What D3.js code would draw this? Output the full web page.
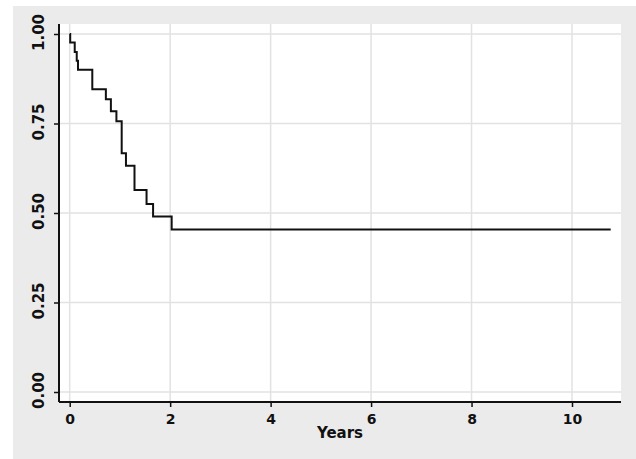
<!DOCTYPE html>
<html lang="en">
<head>
    <meta charset="UTF-8">
    <title>Survival curve</title>
    <script src="https://d3js.org/d3.v7.min.js"></script>
    <style>
        body { margin: 0; background: #fff; }
    </style>
</head>
<body>
    <script>
        // step times (years) and survival after each step
        const stepTimes = [0, 0.01, 0.10, 0.14, 0.165, 0.45, 0.72, 0.82, 0.93, 1.035, 1.12, 1.29, 1.53, 1.66, 2.03];
        const survival = [1.0, 0.976, 0.950, 0.925, 0.900, 0.846, 0.818, 0.784, 0.756, 0.667, 0.632, 0.564, 0.525, 0.490, 0.454];
        const lastTime = 10.77;
        const xTicks = [0, 2, 4, 6, 8, 10];
        const yTicks = [0, 0.25, 0.5, 0.75, 1.0];
        const xTitle = "Years";

        const width = 636, height = 459;
        const plot = { left: 59, right: 621, top: 24, bottom: 402 };

        const svg = d3.select("body").append("svg")
            .attr("width", width).attr("height", height);

        // outer gray panel
        svg.append("rect")
            .attr("x", 13).attr("y", 6)
            .attr("width", width - 13).attr("height", height - 6)
            .attr("fill", "#ebebeb");

        // white plot region
        svg.append("rect")
            .attr("x", plot.left).attr("y", plot.top)
            .attr("width", plot.right - plot.left).attr("height", plot.bottom - plot.top)
            .attr("fill", "#fff");

        const x = d3.scaleLinear().domain([0, 10]).range([69.7, 572]);
        const y = d3.scaleLinear().domain([0, 1]).range([392, 34]);

        // grid
        svg.append("g").selectAll("line").data(xTicks).join("line")
            .attr("x1", d => x(d)).attr("x2", d => x(d))
            .attr("y1", plot.top).attr("y2", plot.bottom)
            .attr("stroke", "#e2e2e2").attr("stroke-width", 1.5);
        svg.append("g").selectAll("line").data(yTicks).join("line")
            .attr("y1", d => y(d)).attr("y2", d => y(d))
            .attr("x1", plot.left).attr("x2", plot.right)
            .attr("stroke", "#e2e2e2").attr("stroke-width", 1.5);

        // x axis
        const xAxis = svg.append("g")
            .attr("transform", `translate(0,${plot.bottom})`)
            .call(d3.axisBottom(x).tickValues(xTicks).tickFormat(d3.format("d"))
                .tickSize(5).tickSizeOuter(0).tickPadding(7));
        xAxis.select(".domain").remove();
        xAxis.append("line")
            .attr("x1", plot.left).attr("x2", plot.right)
            .attr("stroke", "#111").attr("stroke-width", 2);
        xAxis.selectAll(".tick line").attr("stroke", "#111").attr("stroke-width", 1.5);
        xAxis.selectAll(".tick text")
            .attr("fill", "#111")
            .style("font-family", "DejaVu Sans").style("font-weight", "bold").style("font-size", "14px");

        // y axis
        const yAxis = svg.append("g")
            .attr("transform", `translate(${plot.left},0)`)
            .call(d3.axisLeft(y).tickValues(yTicks).tickFormat(d3.format(".2f"))
                .tickSize(5).tickSizeOuter(0).tickPadding(6));
        yAxis.select(".domain").remove();
        yAxis.append("line")
            .attr("y1", plot.top).attr("y2", plot.bottom)
            .attr("stroke", "#111").attr("stroke-width", 2);
        yAxis.selectAll(".tick line").attr("stroke", "#111").attr("stroke-width", 1.5);
        yAxis.selectAll(".tick text")
            .attr("fill", "#111")
            .attr("x", null).attr("dy", null)
            .attr("text-anchor", "middle")
            .attr("transform", "translate(-15,-2) rotate(-90)")
            .style("font-family", "DejaVu Sans").style("font-weight", "bold").style("font-size", "15px");

        // axis title
        svg.append("text")
            .attr("x", (plot.left + plot.right) / 2).attr("y", 438)
            .attr("text-anchor", "middle")
            .attr("fill", "#111")
            .style("font-family", "DejaVu Sans").style("font-weight", "bold").style("font-size", "15px")
            .text(xTitle);

        // survival step line
        const pts = stepTimes.map((t, i) => ({ t: t, s: survival[i] }));
        pts.push({ t: lastTime, s: survival[survival.length - 1] });
        svg.append("path")
            .datum(pts)
            .attr("fill", "none").attr("stroke", "#111").attr("stroke-width", 2)
            .attr("d", d3.line().curve(d3.curveStepAfter)
                .x(d => x(d.t)).y(d => y(d.s)));
    </script>
</body>
</html>
